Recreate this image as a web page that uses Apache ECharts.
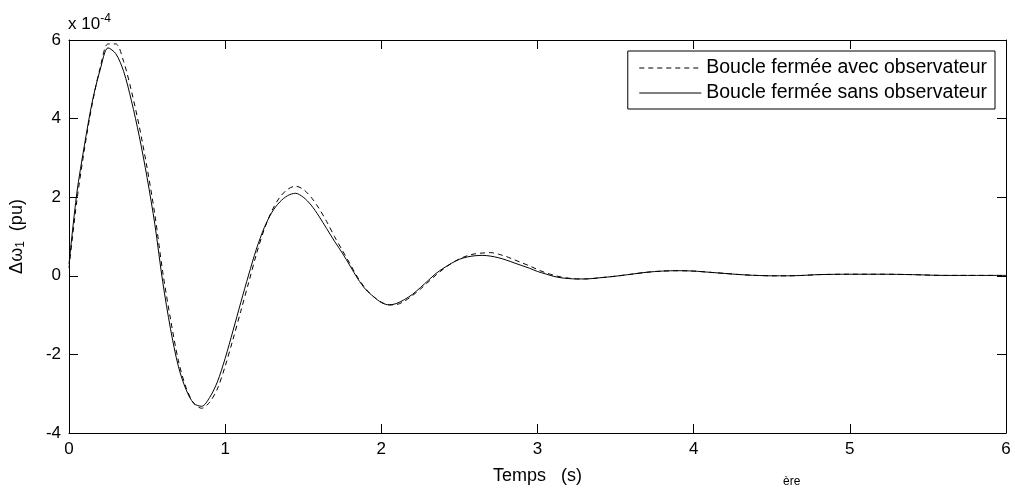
<!DOCTYPE html>
<html>
<head>
<meta charset="utf-8">
<script src="https://cdn.jsdelivr.net/npm/echarts@6/dist/echarts.min.js"></script>
<style>html,body{margin:0;padding:0;background:#fff}#c{width:1015px;height:490px}</style>
</head>
<body>
<div id="c"></div>
<script>
// time (s)
const timeA = [0,0.05,0.10,0.15,0.20,0.25,0.30,0.35,0.40,0.45,0.50,0.55,0.60,0.65,0.70,0.75,0.80,0.85,0.90,0.95,
1.00,1.05,1.10,1.15,1.20,1.25,1.30,1.35,1.40,1.45,1.50,1.55,1.60,1.65,1.70,1.75,1.80,1.85,1.90,1.95,
2.00,2.05,2.10,2.15,2.20,2.25,2.30,2.35,2.40,2.45,2.50,2.55,2.60,2.65,2.70,2.75,2.80,2.85,2.90,2.95,
3.00,3.05,3.10,3.15,3.20,3.25,3.30,3.35,3.40,3.50,3.60,3.70,3.80,3.90,4.00,4.10,4.20,4.30,4.40,4.50,
4.60,4.70,4.80,5.00,5.20,5.40,5.60,5.80,6.00];
// values in units of 1e-4 pu
const avecObservateur = [0.2,1.9,3.25,4.4,5.3,5.9,5.9,5.45,4.7,3.8,2.75,1.55,0.1,-1.1,-2.15,-2.85,-3.25,-3.37,-3.22,-2.88,
-2.3,-1.62,-0.9,-0.18,0.55,1.18,1.66,2.0,2.2,2.28,2.2,2.0,1.72,1.38,1.0,0.65,0.3,-0.05,-0.33,-0.53,
-0.67,-0.74,-0.73,-0.64,-0.5,-0.34,-0.16,0.02,0.18,0.32,0.43,0.51,0.56,0.58,0.59,0.55,0.49,0.41,0.33,0.25,
0.16,0.08,0.02,-0.03,-0.06,-0.08,-0.08,-0.07,-0.05,-0.01,0.04,0.09,0.12,0.13,0.12,0.09,0.06,0.03,0.01,0.0,
0.0,0.01,0.03,0.04,0.04,0.03,0.01,0.01,0.01];
const sansObservateur = [0.3,2.1,3.35,4.45,5.25,5.8,5.65,5.2,4.45,3.55,2.5,1.3,-0.15,-1.35,-2.3,-2.9,-3.25,-3.32,-3.1,-2.7,
-2.1,-1.4,-0.68,0.02,0.68,1.22,1.62,1.88,2.04,2.1,2.0,1.8,1.52,1.2,0.88,0.58,0.25,-0.08,-0.35,-0.53,
-0.68,-0.74,-0.7,-0.6,-0.47,-0.3,-0.12,0.06,0.2,0.32,0.42,0.48,0.51,0.52,0.5,0.46,0.4,0.33,0.26,0.19,
0.11,0.05,-0.01,-0.05,-0.07,-0.08,-0.08,-0.07,-0.05,-0.01,0.04,0.09,0.12,0.13,0.12,0.09,0.06,0.03,0.01,0.0,
0.0,0.01,0.03,0.04,0.04,0.03,0.01,0.01,0.01];
const xTicks = [0,1,2,3,4,5,6];
const yTicks = [-4,-2,0,2,4,6];
const seriesNames = ['Boucle fermée avec observateur','Boucle fermée sans observateur'];

const FF = "'Liberation Sans', Arial, Helvetica, sans-serif";
const pairs = (vals) => timeA.map((t,i)=>[t, vals[i]]);
const axisCommon = {
  axisLine:{show:true,onZero:false,lineStyle:{color:'#000',width:1}},
  axisTick:{show:true,inside:true,length:9,lineStyle:{color:'#000'}},
  splitLine:{show:false}
};
const chart = echarts.init(document.getElementById('c'), null, {renderer:'canvas'});
chart.setOption({
  animation:false,
  backgroundColor:'#fff',
  grid:{left:69,right:9,top:40,bottom:57,containLabel:false},
  xAxis:[
    Object.assign({type:'value',min:xTicks[0],max:xTicks[xTicks.length-1],interval:1,position:'bottom',
      name:'Temps   (s)',nameLocation:'middle',nameGap:34,
      nameTextStyle:{fontFamily:FF,fontSize:18,color:'#000'},
      axisLabel:{fontFamily:FF,fontSize:17,color:'#000',margin:8}},axisCommon),
    Object.assign({type:'value',min:0,max:6,interval:1,position:'top',axisLabel:{show:false}},axisCommon)
  ],
  yAxis:[
    Object.assign({type:'value',min:yTicks[0],max:yTicks[yTicks.length-1],interval:2,position:'left',
      name:'Δω{s|1}  (pu)',nameLocation:'middle',nameGap:42,
      nameTextStyle:{fontFamily:FF,fontSize:18,color:'#000',rich:{s:{fontFamily:FF,fontSize:12,color:'#000',verticalAlign:'bottom',padding:[8,0,0,0]}}},
      axisLabel:{fontFamily:FF,fontSize:17,color:'#000',margin:8}},axisCommon),
    Object.assign({type:'value',min:-4,max:6,interval:2,position:'right',axisLabel:{show:false}},axisCommon)
  ],
  legend:{
    orient:'vertical',right:20,top:51,
    data:seriesNames,
    backgroundColor:'#fff',borderColor:'#000',borderWidth:1,borderRadius:0,
    padding:[7,8,6,11],itemGap:5,itemWidth:62,itemHeight:14,
    itemStyle:{opacity:0},
    lineStyle:{width:1},
    textStyle:{fontFamily:FF,fontSize:19.5,color:'#000'},
    selectedMode:false
  },
  graphic:[
    {type:'text',left:68,top:13,style:{rich:{a:{fontFamily:FF,fontSize:17,fill:'#000'},b:{fontFamily:FF,fontSize:12,fill:'#000',padding:[0,0,10,0]}},text:'{a|x 10}{b|-4}',fill:'#000'}},
    {type:'text',left:783,top:476,style:{text:'ère',fontFamily:FF,fontSize:12,fill:'#000'}}
  ],
  series:[
    {name:seriesNames[0],type:'line',data:pairs(avecObservateur),showSymbol:false,symbol:'none',smooth:0.3,
      lineStyle:{color:'#000',width:1,type:[5,4]},itemStyle:{color:'#000'}},
    {name:seriesNames[1],type:'line',data:pairs(sansObservateur),showSymbol:false,symbol:'none',smooth:0.3,
      lineStyle:{color:'#000',width:1,type:'solid'},itemStyle:{color:'#000'}}
  ]
});
</script>
</body>
</html>
